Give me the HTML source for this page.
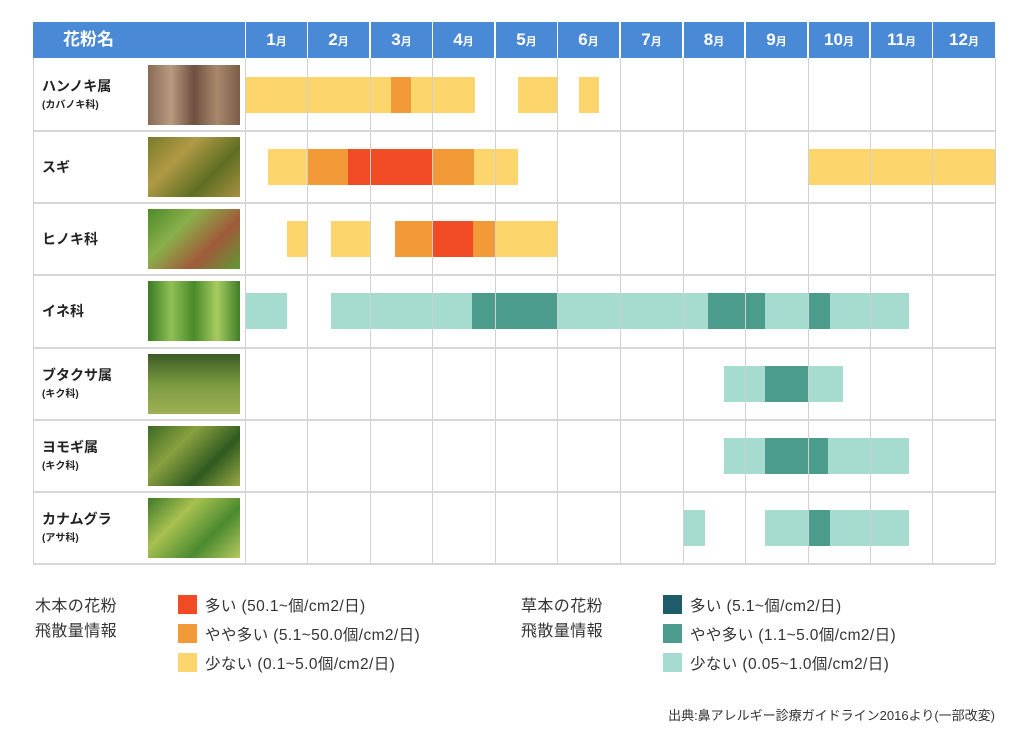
<!DOCTYPE html>
<html><head><meta charset="utf-8"><style>
body{margin:0;width:1024px;height:744px;background:#fff;position:relative;overflow:hidden;font-family:"Liberation Sans","Noto Sans CJK JP",sans-serif;}
.a{position:absolute;}
.hd{background:#4a89d6;color:#fff;font-weight:bold;font-size:17px;text-align:center;line-height:36px;top:22px;height:36px;}
.hd small{font-size:11px;}
.vl{position:absolute;top:58px;height:506px;width:1px;background:#d0d0d0;}
.hl{position:absolute;left:33px;width:962px;height:2px;background:#d6d6d6;}
.y{background:#fcd66c}.o{background:#f39a38}.r{background:#f04b24}
.l{background:#a6dccf}.m{background:#4b9c8c}.d{background:#1f5c6a}
.nm{position:absolute;left:42px;font-weight:bold;font-size:14px;color:#222;line-height:17px;}
.nm small{font-size:10px;}
.ph{position:absolute;left:148px;width:92px;height:60px;}
.lg{position:absolute;font-size:15.5px;color:#333;letter-spacing:0.4px;white-space:nowrap;}
.sw{position:absolute;width:19px;height:19px;}
</style></head><body>
<div class="a hd" style="left:33px;width:212px;text-align:left;padding-left:0"><span style="margin-left:30px">花粉名</span></div>
<div class="a hd" style="left:246px;width:61px">1<small>月</small></div>
<div class="a hd" style="left:308px;width:61px">2<small>月</small></div>
<div class="a hd" style="left:371px;width:61px">3<small>月</small></div>
<div class="a hd" style="left:433px;width:61px">4<small>月</small></div>
<div class="a hd" style="left:496px;width:61px">5<small>月</small></div>
<div class="a hd" style="left:558px;width:61px">6<small>月</small></div>
<div class="a hd" style="left:621px;width:61px">7<small>月</small></div>
<div class="a hd" style="left:684px;width:60px">8<small>月</small></div>
<div class="a hd" style="left:746px;width:61px">9<small>月</small></div>
<div class="a hd" style="left:809px;width:60px">10<small>月</small></div>
<div class="a hd" style="left:871px;width:61px">11<small>月</small></div>
<div class="a hd" style="left:933px;width:62px">12<small>月</small></div>

<div class="a y" style="left:245px;top:77px;width:230px;height:36px"></div>
<div class="a o" style="left:391px;top:77px;width:20px;height:36px"></div>
<div class="a y" style="left:518px;top:77px;width:39px;height:36px"></div>
<div class="a y" style="left:579px;top:77px;width:20px;height:36px"></div>

<div class="a y" style="left:268px;top:149px;width:250px;height:36px"></div>
<div class="a o" style="left:307px;top:149px;width:41px;height:36px"></div>
<div class="a r" style="left:348px;top:149px;width:84px;height:36px"></div>
<div class="a o" style="left:432px;top:149px;width:42px;height:36px"></div>
<div class="a y" style="left:808px;top:149px;width:187px;height:36px"></div>

<div class="a y" style="left:287px;top:221px;width:20px;height:36px"></div>
<div class="a y" style="left:331px;top:221px;width:39px;height:36px"></div>
<div class="a o" style="left:395px;top:221px;width:38px;height:36px"></div>
<div class="a r" style="left:433px;top:221px;width:40px;height:36px"></div>
<div class="a o" style="left:473px;top:221px;width:22px;height:36px"></div>
<div class="a y" style="left:495px;top:221px;width:62px;height:36px"></div>

<div class="a l" style="left:245px;top:293px;width:42px;height:36px"></div>
<div class="a l" style="left:331px;top:293px;width:578px;height:36px"></div>
<div class="a m" style="left:472px;top:293px;width:85px;height:36px"></div>
<div class="a m" style="left:708px;top:293px;width:57px;height:36px"></div>
<div class="a m" style="left:808px;top:293px;width:22px;height:36px"></div>

<div class="a l" style="left:724px;top:366px;width:119px;height:36px"></div>
<div class="a m" style="left:765px;top:366px;width:43px;height:36px"></div>

<div class="a l" style="left:724px;top:438px;width:185px;height:36px"></div>
<div class="a m" style="left:765px;top:438px;width:63px;height:36px"></div>

<div class="a l" style="left:683px;top:510px;width:22px;height:36px"></div>
<div class="a l" style="left:765px;top:510px;width:144px;height:36px"></div>
<div class="a m" style="left:808px;top:510px;width:22px;height:36px"></div>

<div class="vl" style="left:33px"></div>
<div class="vl" style="left:245px"></div>
<div class="vl" style="left:307px"></div>
<div class="vl" style="left:370px"></div>
<div class="vl" style="left:432px"></div>
<div class="vl" style="left:495px"></div>
<div class="vl" style="left:557px"></div>
<div class="vl" style="left:620px"></div>
<div class="vl" style="left:683px"></div>
<div class="vl" style="left:745px"></div>
<div class="vl" style="left:808px"></div>
<div class="vl" style="left:870px"></div>
<div class="vl" style="left:932px"></div>
<div class="vl" style="left:995px"></div>
<div class="hl" style="top:130px"></div>
<div class="hl" style="top:202px"></div>
<div class="hl" style="top:274px"></div>
<div class="hl" style="top:347px"></div>
<div class="hl" style="top:419px"></div>
<div class="hl" style="top:491px"></div>
<div class="hl" style="top:563px"></div>

<div class="nm" style="top:78px">ハンノキ属<br><small>(カバノキ科)</small></div>
<div class="nm" style="top:159px">スギ</div>
<div class="nm" style="top:231px">ヒノキ科</div>
<div class="nm" style="top:303px">イネ科</div>
<div class="nm" style="top:367px">ブタクサ属<br><small>(キク科)</small></div>
<div class="nm" style="top:439px">ヨモギ属<br><small>(キク科)</small></div>
<div class="nm" style="top:511px">カナムグラ<br><small>(アサ科)</small></div>

<div class="ph" style="top:65px;background:linear-gradient(90deg,#8a6a55,#b89a80,#6d5040,#a8886c,#7a5c48)"></div>
<div class="ph" style="top:137px;background:linear-gradient(135deg,#7a7a2a,#b09a45,#5f6e22,#a89040)"></div>
<div class="ph" style="top:209px;background:linear-gradient(135deg,#4e8a2a,#8ab04a,#a05a3a,#5f9a35)"></div>
<div class="ph" style="top:281px;background:linear-gradient(90deg,#3a7a25,#8fc055,#4a8a2a,#a6cc60,#3f7d28)"></div>
<div class="ph" style="top:354px;background:linear-gradient(180deg,#3c5a25,#7a9a40,#a0b055)"></div>
<div class="ph" style="top:426px;background:linear-gradient(135deg,#3a6a25,#8aa040,#2f5a20,#9aa845)"></div>
<div class="ph" style="top:498px;background:linear-gradient(135deg,#3f7a2a,#a8c050,#4a8a30,#b8c860)"></div>

<div class="lg" style="left:35px;top:594px;line-height:25px;font-size:16px">木本の花粉<br>飛散量情報</div>
<div class="sw r" style="left:178px;top:595px"></div><div class="lg" style="left:205px;top:594px">多い (50.1~個/cm2/日)</div>
<div class="sw o" style="left:178px;top:624px"></div><div class="lg" style="left:205px;top:623px">やや多い (5.1~50.0個/cm2/日)</div>
<div class="sw y" style="left:178px;top:653px"></div><div class="lg" style="left:205px;top:652px">少ない (0.1~5.0個/cm2/日)</div>
<div class="lg" style="left:521px;top:594px;line-height:25px;font-size:16px">草本の花粉<br>飛散量情報</div>
<div class="sw d" style="left:663px;top:595px"></div><div class="lg" style="left:690px;top:594px">多い (5.1~個/cm2/日)</div>
<div class="sw m" style="left:663px;top:624px"></div><div class="lg" style="left:690px;top:623px">やや多い (1.1~5.0個/cm2/日)</div>
<div class="sw l" style="left:663px;top:653px"></div><div class="lg" style="left:690px;top:652px">少ない (0.05~1.0個/cm2/日)</div>
<div class="a" style="right:29px;top:705px;font-size:13px;color:#333;white-space:nowrap">出典:鼻アレルギー診療ガイドライン2016より(一部改変)</div>
</body></html>
